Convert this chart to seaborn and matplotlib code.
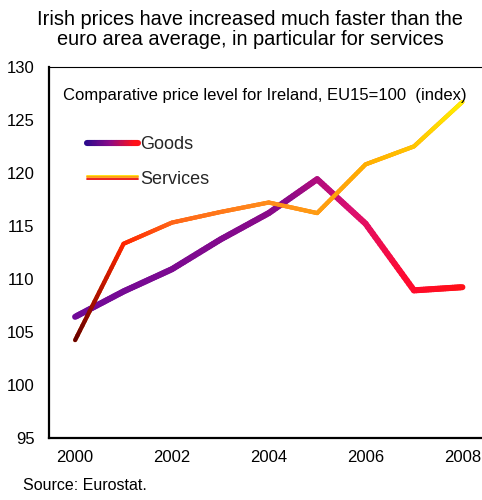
import numpy as np
import pandas as pd
import matplotlib
matplotlib.use("Agg")
import matplotlib.pyplot as plt
import seaborn as sns
from matplotlib.collections import LineCollection
from matplotlib.colors import LinearSegmentedColormap
from matplotlib.legend_handler import HandlerBase
from matplotlib.lines import Line2D

years = [2000, 2001, 2002, 2003, 2004, 2005, 2006, 2007, 2008]
goods = [106.4, 108.8, 110.9, 113.7, 116.2, 119.4, 115.2, 108.9, 109.2]
services = [104.2, 113.3, 115.3, 116.3, 117.2, 116.2, 120.8, 122.5, 126.7]

title = "Irish prices have increased much faster than the\neuro area average, in particular for services"
subtitle = "Comparative price level for Ireland, EU15=100  (index)"
source = "Source: Eurostat."

goods_cmap = LinearSegmentedColormap.from_list(
    "goods", [(0.0, "#700A98"), (0.55, "#8A0A88"), (0.72, "#DC1070"),
              (0.86, "#FF0A30"), (1.0, "#FF1018")])
services_cmap = LinearSegmentedColormap.from_list(
    "services", [(0.0, "#660000"), (0.125, "#FF2400"), (0.25, "#FF6418"),
                 (0.5, "#FF8C1C"), (0.625, "#FF9C12"), (0.75, "#FFAE00"),
                 (0.875, "#FFC400"), (1.0, "#FFEE00")])
legend_goods_cmap = LinearSegmentedColormap.from_list(
    "legend_goods", ["#2A0A8C", "#8A0A88", "#FF1018"])


def gradient_line(ax, x, y, cmap, lw, steps=20):
    # split each segment into small pieces so the colour can change along x
    x = np.asarray(x, float)
    y = np.asarray(y, float)
    segs, cols = [], []
    x0, x1 = x.min(), x.max()
    for i in range(len(x) - 1):
        t = np.linspace(0, 1, steps + 1)
        xs = x[i] + (x[i + 1] - x[i]) * t
        ys = y[i] + (y[i + 1] - y[i]) * t
        for j in range(steps):
            segs.append([(xs[j], ys[j]), (xs[j + 1], ys[j + 1])])
            cols.append(cmap(((xs[j] + xs[j + 1]) / 2 - x0) / (x1 - x0)))
    lc = LineCollection(segs, colors=cols, linewidths=lw, capstyle="round",
                        joinstyle="round", zorder=3)
    ax.add_collection(lc)


class GradientHandler(HandlerBase):
    def __init__(self, cmap, lw):
        super().__init__()
        self.cmap = cmap
        self.lw = lw

    def create_artists(self, legend, orig_handle, xdescent, ydescent,
                       width, height, fontsize, trans):
        n = 30
        xs = np.linspace(-xdescent, width - xdescent, n + 1)
        y = height / 2 - ydescent
        segs = [[(xs[i], y), (xs[i + 1], y)] for i in range(n)]
        lc = LineCollection(segs, colors=self.cmap(np.linspace(0, 1, n)),
                            linewidths=self.lw, capstyle="round", transform=trans)
        return [lc]


class StripeHandler(HandlerBase):
    def __init__(self, colors, lw, gap):
        super().__init__()
        self.colors = colors
        self.lw = lw
        self.gap = gap

    def create_artists(self, legend, orig_handle, xdescent, ydescent,
                       width, height, fontsize, trans):
        y = height / 2 - ydescent
        arts = []
        for k, c in enumerate(self.colors):
            yy = y + self.gap * (1 - k)
            ln = Line2D([-xdescent, width - xdescent], [yy, yy], color=c,
                        lw=self.lw, solid_capstyle="round", transform=trans)
            arts.append(ln)
        return arts


sns.set_theme(style="white")
plt.rcParams["font.family"] = ["Liberation Sans", "DejaVu Sans"]

df = pd.DataFrame({
    "year": years * 2,
    "value": goods + services,
    "series": ["Goods"] * len(years) + ["Services"] * len(years),
})

fig = plt.figure(figsize=(4.82, 5.0), dpi=100)
ax = fig.add_axes([49 / 482, 62.5 / 500, 439.5 / 482, 370.5 / 500])

sns.lineplot(data=df, x="year", y="value", hue="series",
             palette={"Goods": "#8A0A88", "Services": "#FF8C1C"},
             linewidth=3.0, legend=False, ax=ax)
gradient_line(ax, years, goods, goods_cmap, 4.4)
gradient_line(ax, years, services, services_cmap, 3.0)

ax.set_xlim(1999.46, 2008.54)
ax.set_ylim(95, 130)
ax.set_xticks(range(2000, 2009, 2))
ax.set_yticks(range(95, 131, 5))
ax.set_xlabel("")
ax.set_ylabel("")
ax.tick_params(axis="both", length=0, labelsize=12, colors="black")
ax.tick_params(axis="y", pad=10.5)
ax.tick_params(axis="x", pad=9)

for side in ["left", "bottom"]:
    ax.spines[side].set_linewidth(1.6)
    ax.spines[side].set_color("black")
ax.spines["top"].set_linewidth(0.8)
ax.spines["top"].set_color("black")
ax.spines["right"].set_visible(False)

h_goods = Line2D([], [])
h_serv = Line2D([], [])
ax.legend([h_goods, h_serv], ["Goods", "Services"],
          handler_map={h_goods: GradientHandler(legend_goods_cmap, 4.4),
                       h_serv: StripeHandler(["#FFE000", "#FF9A10", "#E81010"], 1.3, 1.1)},
          loc="upper left", bbox_to_anchor=(0.07, 0.832), frameon=False,
          fontsize=13, handlelength=2.8, handletextpad=0.15, labelspacing=0.95,
          borderaxespad=0)

fig.text(0.519, 0.941, title, ha="center", va="center", fontsize=14.4,
         linespacing=1.12, color="black")
fig.text(63 / 482, 1 - 95.7 / 500, subtitle, ha="left", va="center",
         fontsize=12, color="black")
fig.text(23 / 482, 1 - 486 / 500, source, ha="left", va="center",
         fontsize=11.5, color="black")

fig.savefig("out.png", dpi=100)
plt.close(fig)
